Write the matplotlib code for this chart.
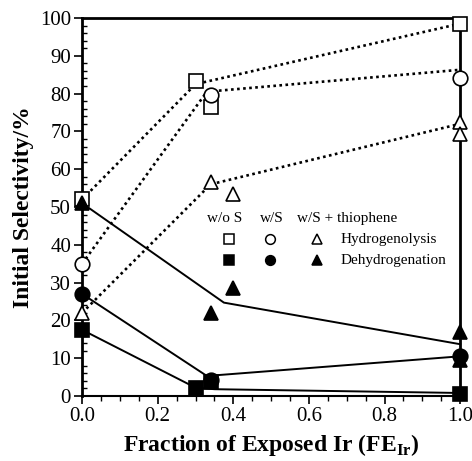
import matplotlib
matplotlib.use('Agg')
import matplotlib.pyplot as plt
from matplotlib.ticker import MultipleLocator

plt.rcParams['font.family'] = ['Liberation Serif', 'DejaVu Serif']
plt.rcParams['mathtext.fontset'] = 'custom'
plt.rcParams['mathtext.rm'] = 'Liberation Serif'
plt.rcParams['mathtext.bf'] = 'Liberation Serif:bold'

# Measured points: fraction of exposed Ir vs initial selectivity (%)
fe_wos = [0.0, 0.30, 0.34, 1.0]
hydro_wos = [52, 83.4, 76.4, 98.5]
dehydro_wos = [17.5, 2.2, 3.7, 0.6]

fe_ws = [0.0, 0.34, 1.0]
hydro_ws = [35, 79.5, 84]
dehydro_ws = [27, 4.3, 10.5]

fe_thio = [0.0, 0.34, 0.40, 1.0, 1.0]
hydro_thio = [22, 56.5, 53.4, 72.6, 69.2]
dehydro_thio = [51, 22, 28.6, 17, 9.5]

# Guide lines drawn through the data
guide_hydro_wos_x = [0.0, 0.30, 1.0]
guide_hydro_wos_y = [52, 82.5, 98.5]
guide_hydro_ws_x = [0.0, 0.33, 1.0]
guide_hydro_ws_y = [35, 80.5, 86.3]
guide_hydro_thio_x = [0.0, 0.34, 1.0]
guide_hydro_thio_y = [22, 56, 72]

guide_dehydro_wos_x = [0.0, 0.30, 0.35, 1.0]
guide_dehydro_wos_y = [17.5, 2.2, 1.8, 0.8]
guide_dehydro_ws_x = [0.0, 0.33, 1.0]
guide_dehydro_ws_y = [27, 5.3, 10.5]
guide_dehydro_thio_x = [0.0, 0.375, 1.0]
guide_dehydro_thio_y = [51, 24.7, 13.7]

fig = plt.figure(figsize=(4.72, 4.61), dpi=100)
ax = fig.add_axes([0.174, 0.141, 0.801, 0.820])

# dotted guides for hydrogenolysis
for gx, gy in [(guide_hydro_wos_x, guide_hydro_wos_y),
               (guide_hydro_ws_x, guide_hydro_ws_y),
               (guide_hydro_thio_x, guide_hydro_thio_y)]:
    ax.plot(gx, gy, color='black', linestyle=(0, (1, 1.3)), linewidth=1.9,
            clip_on=False, zorder=2)

# solid guides for dehydrogenation
for gx, gy in [(guide_dehydro_wos_x, guide_dehydro_wos_y),
               (guide_dehydro_ws_x, guide_dehydro_ws_y),
               (guide_dehydro_thio_x, guide_dehydro_thio_y)]:
    ax.plot(gx, gy, color='black', linestyle='-', linewidth=1.4,
            clip_on=False, zorder=2)

ms = 10.5
mkw = dict(linestyle='none', markeredgecolor='black', markeredgewidth=1.2,
           clip_on=False, zorder=4)
ax.plot(fe_wos, hydro_wos, marker='s', markerfacecolor='white', markersize=ms, **mkw)
ax.plot(fe_ws, hydro_ws, marker='o', markerfacecolor='white', markersize=ms, **mkw)
ax.plot(fe_thio, hydro_thio, marker='^', markerfacecolor='white', markersize=ms, **mkw)
ax.plot(fe_wos, dehydro_wos, marker='s', markerfacecolor='black', markersize=ms, **mkw)
ax.plot(fe_ws, dehydro_ws, marker='o', markerfacecolor='black', markersize=ms, **mkw)
ax.plot(fe_thio, dehydro_thio, marker='^', markerfacecolor='black', markersize=ms, **mkw)

# hand-made key inside the plot
key_fs = 11
ax.text(0.376, 46.9, 'w/o S', fontsize=key_fs, ha='center', va='center')
ax.text(0.502, 46.9, 'w/S', fontsize=key_fs, ha='center', va='center')
ax.text(0.702, 46.9, 'w/S + thiophene', fontsize=key_fs, ha='center', va='center')
key_x = [0.388, 0.498, 0.621]
key_m = ['s', 'o', '^']
for kx, km in zip(key_x, key_m):
    ax.plot([kx], [41.5], marker=km, markersize=7, markerfacecolor='white',
            markeredgecolor='black', markeredgewidth=1.1, linestyle='none')
    ax.plot([kx], [35.9], marker=km, markersize=7, markerfacecolor='black',
            markeredgecolor='black', markeredgewidth=1.1, linestyle='none')
ax.text(0.683, 41.5, 'Hydrogenolysis', fontsize=key_fs, ha='left', va='center')
ax.text(0.683, 35.9, 'Dehydrogenation', fontsize=key_fs, ha='left', va='center')

ax.set_xlim(0, 1.0)
ax.set_ylim(0, 100)
ax.xaxis.set_major_locator(MultipleLocator(0.2))
ax.xaxis.set_minor_locator(MultipleLocator(0.05))
ax.yaxis.set_major_locator(MultipleLocator(10))
ax.yaxis.set_minor_locator(MultipleLocator(2))
ax.set_xticklabels([f'{v:.1f}' for v in ax.get_xticks()])

ax.tick_params(axis='both', which='major', labelsize=15, width=1.2, length=6,
               direction='out', top=False, right=False, pad=2)
ax.tick_params(axis='x', which='minor', width=1.0, length=3.5, direction='out',
               top=False)
ax.tick_params(axis='y', which='minor', width=1.0, length=3.5, direction='in',
               right=False)

for side in ['left', 'right', 'top']:
    ax.spines[side].set_linewidth(2.0)
ax.spines['bottom'].set_linewidth(1.5)

ax.set_xlabel('Fraction of Exposed Ir (FE$_{\\mathbf{Ir}}$)', fontsize=17,
              fontweight='bold', labelpad=4)
ax.set_ylabel('Initial Selectivity/%', fontsize=17, fontweight='bold', labelpad=4)

fig.savefig('out.png', dpi=100)
